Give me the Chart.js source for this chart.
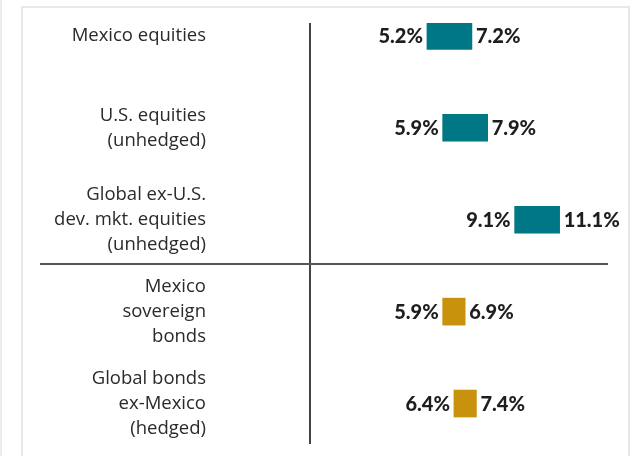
<!DOCTYPE html>
<html>
<head>
<meta charset="utf-8">
<script src="https://cdn.jsdelivr.net/npm/chart.js@4.4.0/dist/chart.umd.min.js"></script>
<style>
  html, body { margin: 0; padding: 0; background: #ffffff; }
  #wrap { position: relative; width: 631px; height: 456px; overflow: hidden; }
  #outer { position: absolute; left: 0; top: 0; width: 2px; height: 456px; background: #ececec; }
  #card { position: absolute; left: 21px; top: 6px; width: 605px; height: 470px;
          border: 2px solid #e8e8e8; border-bottom: none; }
  #c { position: absolute; left: 0; top: 0; }
</style>
</head>
<body>
<div id="wrap">
  <div id="outer"></div>
  <div id="card"></div>
  <canvas id="c" width="631" height="456"></canvas>
</div>
<script>
// ---- data ----
const categories = [
  ['Mexico equities'],
  ['U.S. equities', '(unhedged)'],
  ['Global ex-U.S.', 'dev. mkt. equities', '(unhedged)'],
  ['Mexico', 'sovereign', 'bonds'],
  ['Global bonds', 'ex-Mexico', '(hedged)']
];
const lowValues  = [5.2, 5.9, 9.1, 5.9, 6.4];
const highValues = [7.2, 7.9, 11.1, 6.9, 7.4];
const assetClass = ['equity', 'equity', 'equity', 'bond', 'bond'];

// ---- styles ----
const classColors = { equity: '#007785', bond: '#c9920c' };

const barData = categories.map((c, i) => ({ y: i, x: [lowValues[i], highValues[i]] }));

const valueLabels = {
  id: 'valueLabels',
  afterDatasetsDraw(chart) {
    const ctx = chart.ctx;
    const meta = chart.getDatasetMeta(0);
    ctx.save();
    ctx.font = '900 20px Lato, "DejaVu Sans", sans-serif';
    ctx.fillStyle = '#1e1e1e';
    ctx.textBaseline = 'middle';
    meta.data.forEach((el, i) => {
      const left = Math.min(el.x, el.base);
      const right = Math.max(el.x, el.base);
      ctx.textAlign = 'right';
      ctx.fillText(lowValues[i].toFixed(1) + '%', left - 4, el.y + 1);
      ctx.textAlign = 'left';
      ctx.fillText(highValues[i].toFixed(1) + '%', right + 4, el.y + 1);
    });
    ctx.restore();
  }
};

const groupDivider = {
  id: 'groupDivider',
  beforeDatasetsDraw(chart) {
    const ys = chart.scales.y;
    const ctx = chart.ctx;
    const idx = assetClass.findIndex(a => a === 'bond');
    const yPix = Math.round(ys.getPixelForValue(idx - 0.5)) - 2;
    ctx.save();
    ctx.strokeStyle = '#555555';
    ctx.lineWidth = 2;
    ctx.beginPath();
    ctx.moveTo(40, yPix);
    ctx.lineTo(chart.chartArea.right, yPix);
    ctx.stroke();
    ctx.restore();
  }
};

new Chart(document.getElementById('c'), {
  type: 'bar',
  data: {
    datasets: [{
      data: barData,
      backgroundColor: ctx => classColors[assetClass[ctx.dataIndex]],
      borderWidth: 0,
      barThickness: 27
    }]
  },
  options: {
    indexAxis: 'y',
    responsive: false,
    animation: false,
    devicePixelRatio: 1,
    layout: { padding: { top: 23, bottom: 12, left: 0, right: 23 } },
    plugins: { legend: { display: false }, tooltip: { enabled: false } },
    scales: {
      x: {
        type: 'linear',
        min: -4,
        max: 13.25,
        ticks: { display: false, stepSize: 1 },
        border: { display: false },
        grid: {
          drawTicks: false,
          lineWidth: 2,
          color: c => (c.tick && c.tick.value === 0) ? '#444444' : 'rgba(0,0,0,0)'
        },
        afterFit: s => { s.height = 0; s.paddingLeft = 0; s.paddingRight = 0; }
      },
      y: {
        type: 'linear',
        reverse: true,
        offset: false,
        grace: 0,
        min: -0.14,
        max: 4.44,
        afterBuildTicks: s => { s.ticks = categories.map((c, i) => ({ value: i })); },
        afterFit: s => { s.width = 220; s.paddingTop = 0; s.paddingBottom = 0; },
        border: { display: false },
        grid: { display: false, drawTicks: false, offset: false },
        ticks: {
          padding: 14,
          color: '#2a2a2a',
          font: { family: '"Open Sans", "DejaVu Sans", sans-serif', size: 18.5, lineHeight: 1.35 },
          callback: (v) => categories[v] || ''
        }
      }
    }
  },
  plugins: [groupDivider, valueLabels]
});
</script>
</body>
</html>
